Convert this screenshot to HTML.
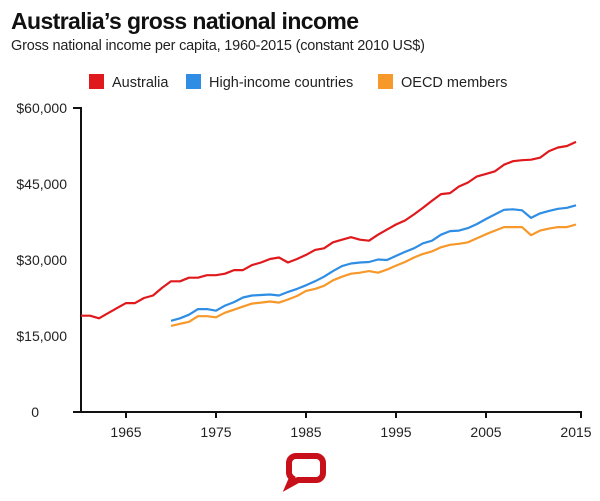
<!DOCTYPE html>
<html><head><meta charset="utf-8"><style>
body{margin:0;background:#fff;width:600px;height:496px;overflow:hidden;font-family:"Liberation Sans",Arial,sans-serif}
</style></head><body>
<svg width="600" height="496" xmlns="http://www.w3.org/2000/svg" font-family="Liberation Sans, Arial, sans-serif">
<text x="11" y="29" font-size="23" font-weight="bold" fill="#111" letter-spacing="-0.6">Australia’s gross national income</text>
<text x="11" y="50" font-size="14.5" fill="#222" letter-spacing="-0.2">Gross national income per capita, 1960-2015 (constant 2010 US$)</text>
<rect x="89" y="74" width="15" height="15" fill="#e0191d"/>
<text x="112" y="87" font-size="14.5" fill="#222">Australia</text>
<rect x="186" y="74" width="15" height="15" fill="#2f8de4"/>
<text x="209" y="87" font-size="14.5" fill="#222">High-income countries</text>
<rect x="378" y="74" width="15" height="15" fill="#f7982a"/>
<text x="401" y="87" font-size="14.5" fill="#222">OECD members</text>
<g font-size="14" fill="#222" text-anchor="end">
<text x="67" y="113">$60,000</text>
<text x="67" y="189">$45,000</text>
<text x="67" y="265">$30,000</text>
<text x="67" y="341">$15,000</text>
<text x="39" y="417">0</text>
</g>
<g stroke="#111" stroke-width="2" fill="none">
<path d="M73,108H81V412"/>
<path d="M73,412H582"/>
<path d="M126,412v6M216,412v6M306,412v6M396,412v6M486,412v6M581,412v6"/>
</g>
<g font-size="14" fill="#222" text-anchor="middle">
<text x="126" y="437">1965</text><text x="216" y="437">1975</text><text x="306" y="437">1985</text>
<text x="396" y="437">1995</text><text x="486" y="437">2005</text><text x="576" y="437">2015</text>
</g>
<g fill="none" stroke-width="2.2" stroke-linejoin="round">
<polyline id="oecd" stroke="#f7982a" points=""/>
<polyline id="hi" stroke="#2f8de4" points=""/>
<polyline id="au" stroke="#e0191d" points=""/>
</g>
<path d="M296,456 h20 a7,7 0 0 1 7,7 v10 a7,7 0 0 1 -7,7 h-18 l-9,5 l3,-7 a7,7 0 0 1 -3,-5 v-10 a7,7 0 0 1 7,-7z" fill="none" stroke="#c8101a" stroke-width="6"/>
<script>
var au=[19000,19000,18500,19500,20500,21500,21500,22500,23000,24500,25800,25800,26500,26500,27000,27000,27300,28000,28000,29000,29500,30200,30500,29500,30200,31000,32000,32300,33500,34000,34500,34000,33800,35000,36000,37000,37800,39000,40300,41700,43000,43200,44500,45300,46500,47000,47500,48800,49500,49700,49800,50200,51500,52200,52500,53300];
var hi=[18000,18500,19200,20300,20300,20000,21000,21700,22600,23000,23100,23200,23000,23700,24300,25000,25800,26700,27800,28800,29300,29500,29600,30100,30000,30800,31600,32300,33300,33800,35000,35700,35800,36300,37100,38100,39000,39900,40000,39800,38300,39200,39700,40100,40300,40800,41300];
var oe=[17000,17400,17800,18900,18900,18700,19600,20200,20800,21400,21600,21800,21600,22200,22900,23900,24300,24900,26000,26700,27300,27500,27800,27500,28100,28900,29600,30500,31200,31700,32500,33000,33200,33500,34300,35100,35800,36500,36500,36500,34900,35800,36200,36500,36500,37000,37500];
function pts(a,s){return a.map(function(v,i){return (81+(s+i-1960)*9)+","+(412-v*304/60000).toFixed(1)}).join(" ")}
document.getElementById("au").setAttribute("points",pts(au,1960));
document.getElementById("hi").setAttribute("points",pts(hi.slice(0,46),1970));
document.getElementById("oecd").setAttribute("points",pts(oe.slice(0,46),1970));
</script>
</svg>
</body></html>
